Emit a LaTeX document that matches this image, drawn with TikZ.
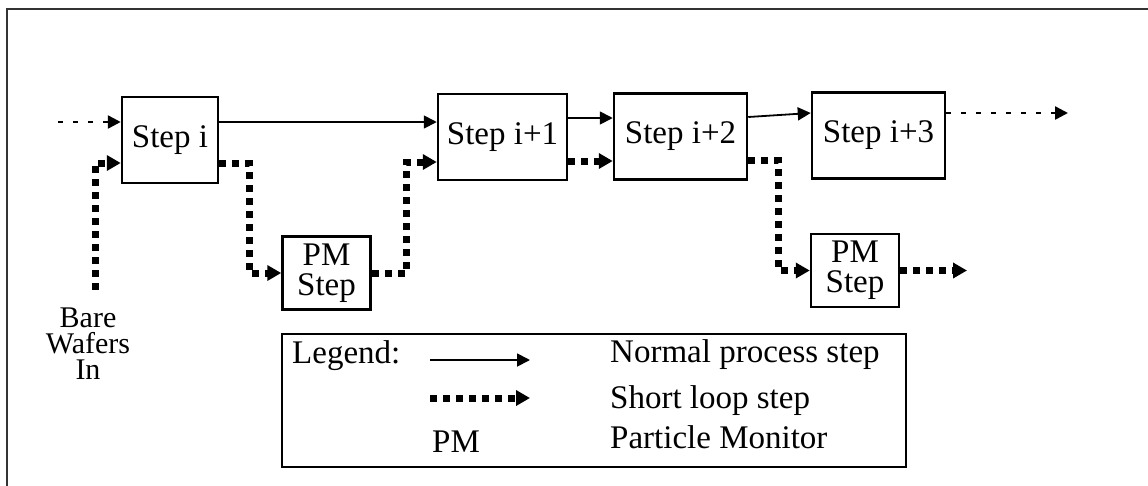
\documentclass[tikz,border=0pt]{standalone}
\usepackage{fontspec}
\setmainfont{Liberation Serif}
\usepackage{tikz}
\usetikzlibrary{arrows.meta,positioning,calc}
\tikzset{
  stepbox/.style={draw, line width=2.5pt, minimum width=#1, minimum height=86pt, inner sep=0pt},
  stepbox/.default=133pt,
  pmbox/.style={draw, line width=2.5pt, minimum width=88pt, minimum height=73pt, inner sep=0pt, align=center,
    font=\fontsize{33}{30}\selectfont},
  flow/.style={-{Triangle[length=13pt,width=13pt]}, line width=1.8pt},
  shortloop/.style={-{Triangle[length=14pt,width=15pt]}, line width=7pt, dash pattern=on 7pt off 6pt},
  feed/.style={-{Triangle[length=13pt,width=13pt]}, line width=2.5pt, dash pattern=on 5pt off 10pt},
  txt/.style={anchor=base west, inner sep=0pt},
}

\begin{document}
\begin{tikzpicture}[x=1pt, y=-1pt, font=\fontsize{33}{30}\selectfont]
  \useasboundingbox (0,0) rectangle (1148,485);
  \clip (0,0) rectangle (1148,485);
  \draw[line width=2.3pt, black!80] (7,9) rectangle (1200,540);
  \node[stepbox=96pt] (si) at (170,140) {Step i};
  \node[stepbox=129pt] (s1) at (502.5,137) {Step i+1};
  \node[stepbox] (s2) at (680.5,136.5) {Step i+2};
  \node[stepbox] (s3) at (878.5,135.5) {Step i+3};
  \node[pmbox] (pm1) at (326.5,273) {PM\\Step};
  \node[pmbox] (pm2) at (855,270.5) {PM\\Step};
  \node[align=center, font=\fontsize{30}{26}\selectfont] (wafers) at (88,344) {Bare\\Wafers\\In};
  \coordinate (feedin) at (58,122);
  \coordinate (feedout) at (1068,113);
  \coordinate (wafersup) at (95,290);
  \coordinate (pmout) at (967,270.5);
  \draw[feed] (feedin) -- (feedin -| si.west);
  \draw[shortloop] (wafersup) |- ([yshift=-23pt]si.west);
  \draw[flow] ([yshift=18pt]si.east) -- ([yshift=15pt]s1.west);
  \draw[shortloop] ([yshift=-23pt]si.east) -- ++(30,0) |- (pm1.west);
  \draw[shortloop] (pm1.east) -- ++(35,0) |- ([yshift=-25pt]s1.west);
  \draw[flow] ([yshift=19pt]s1.east) -- ([yshift=18.5pt]s2.west);
  \draw[shortloop] ([yshift=-24pt]s1.east) -- ([yshift=-24.5pt]s2.west);
  \draw[flow] ([yshift=19.5pt]s2.east) -- ([yshift=22.5pt]s3.west);
  \draw[shortloop] ([yshift=-23.5pt]s2.east) -- ++(30,0) |- (pm2.west);
  \draw[shortloop] (pm2.east) -- (pmout);
  \draw[feed] ([yshift=22.5pt]s3.east) -- (feedout);
  \node[draw, line width=2.5pt, minimum width=624pt, minimum height=133pt] (legend) at (594,400.5) {};
  \node[txt] (legtitle) at (292,363) {Legend:};
  \coordinate (ns0) at (430,360);
  \coordinate (ns1) at (530,360);
  \coordinate (sl0) at (430,398);
  \coordinate (sl1) at (530,398);
  \draw[flow] (ns0) -- (ns1);
  \draw[shortloop] (sl0) -- (sl1);
  \node[txt] (pmabbr) at (432,452) {PM};
  \node[txt] (normal) at (610,362) {Normal process step};
  \node[txt] (short) at (610,408) {Short loop step};
  \node[txt] (particle) at (610,448) {Particle Monitor};
\end{tikzpicture}
\end{document}
